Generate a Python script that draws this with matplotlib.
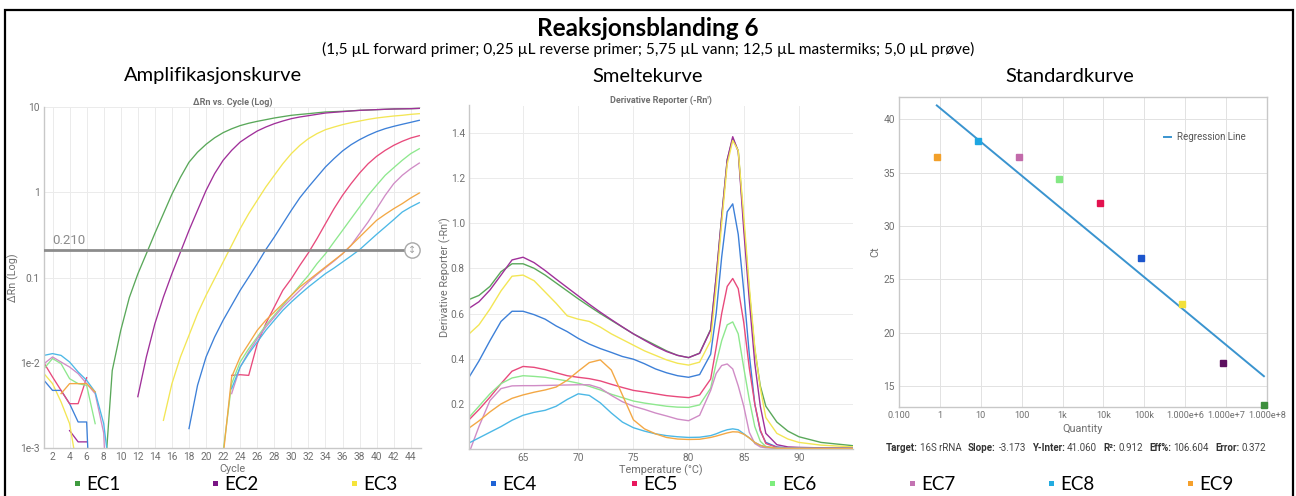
import numpy as np
import matplotlib
matplotlib.use('Agg')
import matplotlib.pyplot as plt
from matplotlib.patches import Rectangle

nan = np.nan

# ---------------- data ----------------
samples = ['EC1', 'EC2', 'EC3', 'EC4', 'EC5', 'EC6', 'EC7', 'EC8', 'EC9']
legend_colors = ['#3f9b3f', '#7a1585', '#f5e43a', '#1f63d6', '#e8175d',
                 '#7ded7d', '#c373b2', '#23ace0', '#f5a02c']
curve_colors = ['#5aa85a', '#a0309a', '#f3e655', '#3d80d8', '#e84a7c',
                '#8ee88e', '#d08cc6', '#4cb8e6', '#f3a845']

cycles = list(range(1, 46))
amp_EC1 = [nan, nan, nan, nan, nan, nan, nan, 3e-4, 0.0081, 0.024,
           0.058, 0.11, 0.19, 0.33, 0.56, 0.95, 1.5, 2.25, 2.95, 3.65,
           4.35, 5.0, 5.55, 6.05, 6.45, 6.79, 7.1, 7.43, 7.71, 7.99,
           8.18, 8.35, 8.55, 8.74, 8.82, 8.9, 9.02, 9.14, 9.22, 9.31,
           9.4, 9.48, 9.52, 9.56, 9.64]
amp_EC2 = [nan, nan, nan, 0.0016, 0.00118, 0.00118, nan, nan, nan, nan,
           nan, 0.004, 0.0117, 0.0287, 0.059, 0.111, 0.199, 0.357, 0.614, 1.05,
           1.65, 2.37, 3.1, 3.88, 4.53, 5.23, 5.82, 6.37, 6.85, 7.3,
           7.64, 7.91, 8.2, 8.5, 8.66, 8.82, 8.98, 9.14, 9.22, 9.31,
           9.4, 9.48, 9.52, 9.56, 9.64]
amp_EC3 = [0.00745, 0.00569, 0.00347, 0.00193, 5e-4, nan, nan, nan, nan, nan,
           nan, nan, nan, nan, 0.00211, 0.00569, 0.0117, 0.021, 0.0377, 0.0618,
           0.0969, 0.152, 0.238, 0.374, 0.561, 0.804, 1.15, 1.58, 2.16, 2.84,
           3.55, 4.25, 4.87, 5.42, 5.82, 6.21, 6.55, 6.85, 7.16, 7.43,
           7.64, 7.84, 7.99, 8.2, 8.35]
amp_EC4 = [0.00622, 0.00474, 0.00474, 0.00331, 0.00202, 0.00202, 1e-5, nan, nan, nan,
           nan, nan, nan, nan, nan, nan, nan, 0.00169, 0.00543, 0.0117,
           0.02, 0.0315, 0.0472, 0.0707, 0.101, 0.145, 0.212, 0.298, 0.428, 0.614,
           0.863, 1.15, 1.51, 1.98, 2.48, 3.05, 3.61, 4.14, 4.65, 5.14,
           5.57, 5.93, 6.27, 6.61, 6.98]
amp_EC5 = [0.00993, 0.00681, 0.00474, 0.00331, 0.00331, 0.00668, nan, nan, nan, nan,
           nan, nan, nan, nan, nan, nan, nan, nan, nan, nan,
           nan, nan, 0.00711, 0.00724, 0.00711, 0.0167, 0.0287, 0.0451, 0.0707, 0.0969,
           0.139, 0.195, 0.285, 0.428, 0.641, 0.92, 1.26, 1.68, 2.16, 2.64,
           3.1, 3.55, 3.96, 4.33, 4.61]
amp_EC6 = [0.00853, 0.0112, 0.00975, 0.0065, 0.00569, 0.00543, 0.00193, nan, nan, nan,
           nan, nan, nan, nan, nan, nan, nan, nan, nan, nan,
           nan, 9e-4, 0.00569, 0.0102, 0.0146, 0.02, 0.0275, 0.036, 0.0472, 0.0618,
           0.0809, 0.106, 0.145, 0.19, 0.261, 0.357, 0.49, 0.671, 0.92, 1.21,
           1.58, 1.94, 2.37, 2.84, 3.24]
amp_EC7 = [0.00975, 0.0117, 0.0102, 0.00891, 0.00745, 0.00569, 0.00434, 0.0015, 1e-5, nan,
           nan, nan, nan, nan, nan, nan, nan, nan, nan, nan,
           nan, nan, 0.00434, 0.00891, 0.0134, 0.0191, 0.0262, 0.0344, 0.0451, 0.0565,
           0.0707, 0.0886, 0.108, 0.13, 0.156, 0.19, 0.238, 0.327, 0.448, 0.641,
           0.92, 1.26, 1.58, 1.89, 2.2]
amp_EC8 = [0.0122, 0.0128, 0.0122, 0.0102, 0.0078, 0.00622, 0.00454, 0.00193, 3e-4, nan,
           nan, nan, nan, nan, nan, nan, nan, nan, nan, nan,
           nan, nan, 0.00497, 0.00891, 0.0128, 0.0175, 0.024, 0.0315, 0.0412, 0.0516,
           0.0635, 0.0774, 0.0927, 0.111, 0.129, 0.152, 0.179, 0.212, 0.261, 0.321,
           0.391, 0.477, 0.586, 0.671, 0.755]
amp_EC9 = [nan, nan, 0.00434, 0.00569, 0.00569, 0.00569, 0.00454, nan, nan, nan,
           nan, nan, nan, nan, nan, nan, nan, nan, nan, nan,
           nan, 8e-4, 0.00681, 0.0117, 0.0167, 0.024, 0.0315, 0.0394, 0.0493, 0.0618,
           0.0774, 0.0927, 0.111, 0.133, 0.159, 0.19, 0.238, 0.298, 0.374, 0.469,
           0.551, 0.641, 0.735, 0.857, 0.98]
amp_series = [amp_EC1, amp_EC2, amp_EC3, amp_EC4, amp_EC5, amp_EC6, amp_EC7, amp_EC8, amp_EC9]
threshold = 0.210

temps = [60, 61, 62, 63, 64, 65, 66, 67, 68, 69, 70, 71, 72, 73, 74, 75, 76, 77, 78, 79,
         80, 81, 82, 82.5, 83, 83.5, 84, 84.5, 85, 85.5, 86, 86.5, 87, 88, 89, 90, 92, 95]
melt_EC1 = [0.66, 0.68, 0.72, 0.785, 0.82, 0.82, 0.80, 0.77, 0.735, 0.70, 0.665, 0.632, 0.60,
            0.57, 0.54, 0.51, 0.485, 0.46, 0.435, 0.415, 0.405, 0.425, 0.53, 0.76, 1.03, 1.28,
            1.375, 1.32, 1.0, 0.70, 0.44, 0.28, 0.19, 0.12, 0.08, 0.055, 0.03, 0.015]
melt_EC2 = [0.62, 0.652, 0.704, 0.77, 0.837, 0.849, 0.825, 0.79, 0.752, 0.715, 0.678, 0.641,
            0.606, 0.573, 0.541, 0.51, 0.482, 0.455, 0.432, 0.415, 0.405, 0.424, 0.527, 0.763,
            1.028, 1.279, 1.382, 1.316, 0.97, 0.66, 0.38, 0.19, 0.07, 0.02, 0.01, 0.008, 0.006, 0.005]
melt_EC3 = [0.505, 0.55, 0.62, 0.70, 0.765, 0.77, 0.745, 0.695, 0.645, 0.59, 0.575, 0.565,
            0.54, 0.51, 0.485, 0.46, 0.435, 0.415, 0.395, 0.38, 0.372, 0.385, 0.48, 0.72, 1.0,
            1.26, 1.365, 1.32, 1.03, 0.72, 0.45, 0.27, 0.14, 0.07, 0.045, 0.03, 0.018, 0.01]
melt_EC4 = [0.31, 0.39, 0.48, 0.565, 0.61, 0.61, 0.595, 0.575, 0.545, 0.52, 0.49, 0.465,
            0.445, 0.428, 0.41, 0.398, 0.378, 0.355, 0.338, 0.325, 0.318, 0.33, 0.42, 0.6, 0.85,
            1.05, 1.085, 0.95, 0.7, 0.42, 0.2, 0.08, 0.03, 0.01, 0.006, 0.005, 0.004, 0.004]
melt_EC5 = [0.125, 0.175, 0.23, 0.29, 0.345, 0.366, 0.362, 0.352, 0.338, 0.325, 0.318, 0.312,
            0.302, 0.287, 0.273, 0.26, 0.253, 0.245, 0.237, 0.232, 0.228, 0.24, 0.31, 0.45, 0.6,
            0.72, 0.755, 0.71, 0.56, 0.36, 0.2, 0.085, 0.025, 0.008, 0.005, 0.005, 0.004, 0.004]
melt_EC6 = [0.135, 0.19, 0.245, 0.29, 0.315, 0.325, 0.322, 0.318, 0.31, 0.302, 0.292, 0.278,
            0.262, 0.243, 0.228, 0.213, 0.204, 0.197, 0.19, 0.186, 0.185, 0.196, 0.27, 0.38, 0.48,
            0.55, 0.563, 0.51, 0.36, 0.22, 0.1, 0.035, 0.012, 0.005, 0.004, 0.004, 0.003, 0.003]
melt_EC7 = [-0.03, 0.1, 0.215, 0.268, 0.28, 0.281, 0.281, 0.282, 0.283, 0.284, 0.285, 0.285,
            0.27, 0.238, 0.21, 0.19, 0.176, 0.16, 0.147, 0.133, 0.126, 0.15, 0.26, 0.335, 0.37,
            0.377, 0.355, 0.28, 0.19, 0.075, 0.025, 0.01, 0.006, 0.004, 0.003, 0.003, 0.003, 0.003]
melt_EC8 = [0.025, 0.05, 0.075, 0.1, 0.128, 0.15, 0.163, 0.172, 0.19, 0.22, 0.245, 0.238,
            0.205, 0.16, 0.12, 0.095, 0.08, 0.068, 0.06, 0.055, 0.052, 0.053, 0.06, 0.068, 0.078,
            0.086, 0.09, 0.086, 0.068, 0.05, 0.03, 0.017, 0.01, 0.004, 0.003, 0.003, 0.003, 0.003]
melt_EC9 = [0.09, 0.125, 0.165, 0.2, 0.225, 0.24, 0.252, 0.262, 0.275, 0.305, 0.345, 0.383,
            0.395, 0.35, 0.24, 0.13, 0.09, 0.068, 0.052, 0.045, 0.043, 0.044, 0.052, 0.058, 0.065,
            0.072, 0.077, 0.076, 0.066, 0.05, 0.03, 0.017, 0.01, 0.004, 0.003, 0.003, 0.003, 0.003]
melt_series = [melt_EC1, melt_EC2, melt_EC3, melt_EC4, melt_EC5, melt_EC6, melt_EC7, melt_EC8, melt_EC9]

quantity = [8.4e7, 8.4e6, 8.4e5, 8.4e4, 8.4e3, 840, 84, 8.4, 0.84]
ct_values = [13.2, 17.2, 22.7, 27.0, 32.2, 34.4, 36.5, 38.0, 36.5]
point_colors = ['#3d8f3d', '#5c0f5e', '#f2e03c', '#1c55cc', '#e3124f',
                '#84e884', '#c26aaa', '#1ea6e2', '#f2a02a']
slope = -3.173
y_inter = 41.060
stats = [('Target:', '16S rRNA'), ('Slope:', '-3.173'), ('Y-Inter:', '41.060'),
         ('R²:', '0.912'), ('Eff%:', '106.604'), ('Error:', '0.372')]

amp_yticks = [1e-3, 1e-2, 0.1, 1, 10]
amp_yticklabels = ['1e-3', '1e-2', '0.1', '1', '10']
std_xticks = [0.1, 1, 10, 100, 1e3, 1e4, 1e5, 1e6, 1e7, 1e8]
std_xticklabels = ['0.100', '1', '10', '100', '1k', '10k', '100k', '1.000e+6', '1.000e+7', '1.000e+8']

# ---------------- figure ----------------
W, H = 1296, 496
fig = plt.figure(figsize=(W / 100, H / 100), dpi=100)
fig.patch.set_facecolor('white')

SLIDE = ['Lato', 'DejaVu Sans']
CHART = ['Roboto', 'DejaVu Sans']
TICKC = '#707070'
GRIDC = '#ebebeb'


def fx(px):
    return px / W


def fy(py):
    return 1 - py / H


# border
fig.patches.append(Rectangle((fx(4.5), fy(520)), fx(1293) - fx(4.5), fy(10.5) - fy(520),
                             transform=fig.transFigure, fill=False, edgecolor='black',
                             linewidth=1.6, clip_on=False))

fig.text(0.5, fy(28), 'Reaksjonsblanding 6', ha='center', va='center', fontsize=17.5,
         fontweight='bold', family=SLIDE)
fig.text(0.5, fy(49), '(1,5 µL forward primer; 0,25 µL reverse primer; 5,75 µL vann; 12,5 µL mastermiks; 5,0 µL prøve)',
         ha='center', va='center', fontsize=11.1, family=SLIDE)
fig.text(fx(213), fy(76), 'Amplifikasjonskurve', ha='center', va='center', fontsize=14.5, family=SLIDE)
fig.text(fx(648), fy(76), 'Smeltekurve', ha='center', va='center', fontsize=14.5, family=SLIDE)
fig.text(fx(1070), fy(76), 'Standardkurve', ha='center', va='center', fontsize=14.5, family=SLIDE)


def style_axes(ax, box=False, size=7.3):
    for s in ['top', 'right']:
        ax.spines[s].set_visible(box)
    for s in ax.spines.values():
        s.set_color('#c8c8c8')
        s.set_linewidth(1.0)
    ax.tick_params(length=0, labelsize=size, labelcolor=TICKC, pad=3)
    for lab in ax.get_xticklabels() + ax.get_yticklabels():
        lab.set_family(CHART)
    ax.set_axisbelow(True)


# ---- amplification plot ----
ax1 = fig.add_axes([fx(44), fy(448), fx(421) - fx(44), fy(107) - fy(448)])
ax1.set_yscale('log')
for vals, col in zip(amp_series, curve_colors):
    ax1.plot(cycles, vals, color=col, lw=0.95, solid_joinstyle='round')
ax1.axhline(threshold, xmin=0, xmax=(44.2 - 1) / (45.2 - 1), color='#8c8c8c', lw=2.0, zorder=5)
ax1.plot([44.2], [threshold], marker='o', ms=11, mfc='white', mec='#a8a8a8', mew=1.0,
         zorder=6, clip_on=False)
ax1.text(44.2, threshold, '↕', ha='center', va='center', fontsize=7, color='#a0a0a0',
         zorder=7, family=['DejaVu Sans'])
ax1.text(2.0, threshold * 1.08, f'{threshold:.3f}', ha='left', va='bottom', fontsize=9.5,
         color='#8c8c8c', family=CHART, zorder=6)
ax1.set_xlim(1, 45.2)
ax1.set_ylim(1e-3, 10)
ax1.set_yticks(amp_yticks)
ax1.set_yticklabels(amp_yticklabels)
ax1.minorticks_off()
ax1.set_xticks(list(range(2, 45, 2)))
ax1.grid(True, which='major', color=GRIDC, lw=0.7)
style_axes(ax1)
ax1.set_xlabel('Cycle', fontsize=7.8, color=TICKC, family=CHART, labelpad=1)
ax1.set_ylabel('ΔRn (Log)', fontsize=7.8, color=TICKC, family=CHART, labelpad=1)
ax1.set_title('ΔRn vs. Cycle (Log)', fontsize=6.5, color='#707070', fontweight='bold',
              family=CHART, pad=1)

# ---- melt plot ----
ax2 = fig.add_axes([fx(469), fy(449.2), fx(853) - fx(469), fy(105.5) - fy(449.2)])
for vals, col in zip(melt_series, curve_colors):
    ax2.plot(temps, vals, color=col, lw=1.0, solid_joinstyle='round')
ax2.set_xlim(60.1, 94.9)
ax2.set_ylim(0, 1.52)
ax2.set_xticks([65, 70, 75, 80, 85, 90])
ax2.set_yticks([0.2, 0.4, 0.6, 0.8, 1.0, 1.2, 1.4])
ax2.set_yticklabels(['0.2', '0.4', '0.6', '0.8', '1.0', '1.2', '1.4'])
ax2.grid(True, color=GRIDC, lw=0.7)
style_axes(ax2)
ax2.set_xlabel('Temperature (°C)', fontsize=7.8, color=TICKC, family=CHART, labelpad=1)
ax2.set_ylabel("Derivative Reporter (-Rn')", fontsize=7.8, color=TICKC, family=CHART, labelpad=0)
ax2.text(0.5, 1.0 + 1.0 / 344, "Derivative Reporter (-Rn')", transform=ax2.transAxes,
         ha='center', va='bottom', fontsize=6.5, color='#707070', fontweight='bold', family=CHART)

# ---- standard curve ----
ax3 = fig.add_axes([fx(899), fy(407), fx(1267) - fx(899), fy(97) - fy(407)])
ax3.set_xscale('log')
qline = [min(quantity), max(quantity)]
ax3.plot(qline, [slope * np.log10(q) + y_inter for q in qline], color='#3a94cf', lw=1.4,
         label='Regression Line', zorder=3)
for q, c, col in zip(quantity, ct_values, point_colors):
    ax3.plot([q], [c], marker='s', ms=5, color=col, ls='none', zorder=4, clip_on=False)
ax3.set_xlim(0.1, 1e8)
ax3.set_ylim(13.03, 42.09)
ax3.set_xticks(std_xticks)
ax3.set_xticklabels(std_xticklabels)
ax3.minorticks_off()
ax3.set_yticks([15, 20, 25, 30, 35, 40])
ax3.grid(True, color='#e2e2e2', lw=0.7)
style_axes(ax3, box=True)
ax3.tick_params(axis='x', labelsize=6.6)
ax3.set_xlabel('Quantity', fontsize=7.8, color=TICKC, family=CHART, labelpad=3)
ax3.set_ylabel('Ct', fontsize=7.8, color=TICKC, family=CHART, labelpad=2)
leg = ax3.legend(loc='upper right', bbox_to_anchor=(0.965, 0.915), frameon=False,
                 handlelength=0.7, handletextpad=0.6, prop={'family': CHART, 'size': 7})
for t in leg.get_texts():
    t.set_color('#555555')

# stats line below standard curve
fig.canvas.draw()
renderer = fig.canvas.get_renderer()
xpos = 886
ypos = fy(448)
for i, (lab, val) in enumerate(stats):
    t1 = fig.text(fx(xpos), ypos, lab, ha='left', va='center', fontsize=7.0, fontweight='bold',
                  color='#333333', family=CHART)
    w1 = t1.get_window_extent(renderer).width
    xpos += w1 + 2.5
    t2 = fig.text(fx(xpos), ypos, val, ha='left', va='center', fontsize=7.0, color='#444444',
                  family=CHART)
    w2 = t2.get_window_extent(renderer).width
    xpos += w2 + 6.0

# ---- bottom legend ----
leg_x = [77, 215, 354, 493, 634, 773, 912, 1051, 1190]
for name, col, x in zip(samples, legend_colors, leg_x):
    fig.patches.append(Rectangle((fx(x - 2.5), fy(486)), fx(5), fy(481) - fy(486),
                                 transform=fig.transFigure, facecolor=col, edgecolor='none'))
    fig.text(fx(x + 9), fy(484), name, ha='left', va='center', fontsize=13.5, family=SLIDE)

fig.savefig('out.png', dpi=100, facecolor='white')
